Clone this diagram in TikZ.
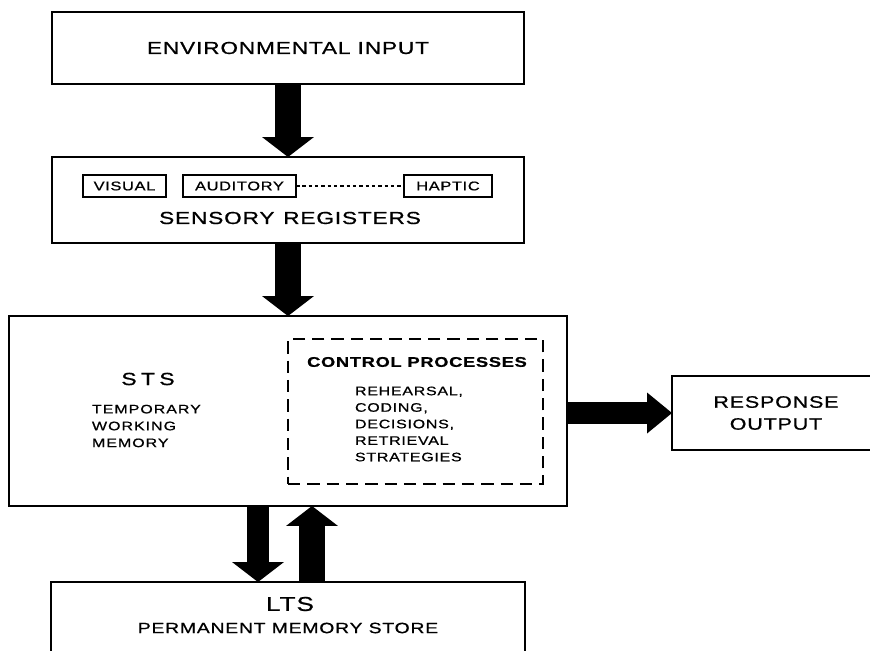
\documentclass[tikz,border=0pt]{standalone}
\usepackage{fontspec}
\setmainfont{Liberation Sans}[FakeStretch=1.3,LetterSpace=5,FakeBold=0.8]
\usepackage{tikz}
\usetikzlibrary{calc}
\usetikzlibrary{arrows.meta}
\usetikzlibrary{positioning}
\tikzstyle{store} = [rectangle, draw=black, line width=1.1pt, inner sep=0pt, outer sep=0pt]
\tikzstyle{reg} = [rectangle, draw=black, line width=0.8pt, inner sep=0pt, outer sep=0pt, minimum height=0.44cm, font=\fontsize{7.2}{8}\selectfont]
\tikzstyle{lbl} = [inner sep=0pt, outer sep=0pt]
\tikzstyle{blk} = [draw=black, line width=0.52cm, -{Triangle[length=0.4cm, width=1.04cm, line width=0pt]}]

\begin{document}
\begin{tikzpicture}[x=0.02cm, y=-0.02cm]
\useasboundingbox (0,0) rectangle (870,650);
\clip (0,0) rectangle (870,650);
\fill [white] (0,0) rectangle (870,650);

% input and sensory registers
\node [store, minimum width=9.44cm, minimum height=1.44cm, font=\fontsize{9.9}{12}\selectfont] (env) at (288,48) {ENVIRONMENTAL INPUT};
\node [store, minimum width=9.44cm, minimum height=1.72cm] (sr) at (288,200) {};
\node [reg, minimum width=1.66cm] (vis) at (124.5,186) {VISUAL};
\node [reg, minimum width=2.26cm] (aud) at (239.5,186) {AUDITORY};
\node [reg, minimum width=1.76cm] (hap) at (448,186) {HAPTIC};
\node [lbl, font=\fontsize{9.9}{12}\selectfont] (srlabel) at (290,218) {SENSORY\enspace REGISTERS};
\draw [line width=0.6pt, dash pattern=on 2pt off 1.6pt] (aud) -- (hap);

% short-term store
\node [store, minimum width=11.16cm, minimum height=3.8cm] (sts) at (288,411) {};
\node [rectangle, draw=black, line width=0.8pt, dash pattern=on 7pt off 4pt, minimum width=5.1cm, minimum height=2.9cm] (ctrl) at (415.5,411.5) {};
\node [lbl, font=\fontsize{10}{12}\selectfont\addfontfeature{LetterSpace=25}] (ststitle) at (148,379) {STS};
\node [lbl, anchor=west, align=left, font=\fontsize{7}{9.6}\selectfont\addfontfeature{LetterSpace=8}] (stsnote) at (92,426) {TEMPORARY\\WORKING\\MEMORY};
\node [lbl, font=\bfseries\fontsize{8}{10}\selectfont] (ctrlhead) at (417,362) {CONTROL PROCESSES};
\node [lbl, anchor=west, align=left, font=\fontsize{7}{9.4}\selectfont\addfontfeature{LetterSpace=6}] (ctrllist) at (355,424) {REHEARSAL,\\CODING,\\DECISIONS,\\RETRIEVAL\\STRATEGIES};

% output and long-term store
\node [store, minimum width=4.16cm, minimum height=1.48cm, align=center, font=\fontsize{9.4}{12.5}\selectfont] (rsp) at (776,413) {RESPONSE\\OUTPUT};
\node [store, minimum width=9.48cm, minimum height=2.16cm] (lts) at (288,636) {};
\node [lbl, font=\fontsize{11.4}{13}\selectfont] (ltstitle) at (290,604) {LTS};
\node [lbl, font=\fontsize{8.5}{10}\selectfont] (ltsnote) at (288,628) {PERMANENT MEMORY STORE};

\draw [blk] (env) -- (sr);
\draw [blk] (sr) -- (sts);
\draw [blk, line width=0.44cm, -{Triangle[length=0.5cm, width=0.82cm, line width=0pt]}] (sts.east |- rsp.west) -- (rsp.west);
\draw [blk, line width=0.46cm] ($(sts.south)+(-30,0)$) -- ($(lts.north)+(-30,0)$);
\draw [blk, line width=0.52cm] ($(lts.north)+(24,0)$) -- ($(sts.south)+(24,0)$);
\end{tikzpicture}
\end{document}
